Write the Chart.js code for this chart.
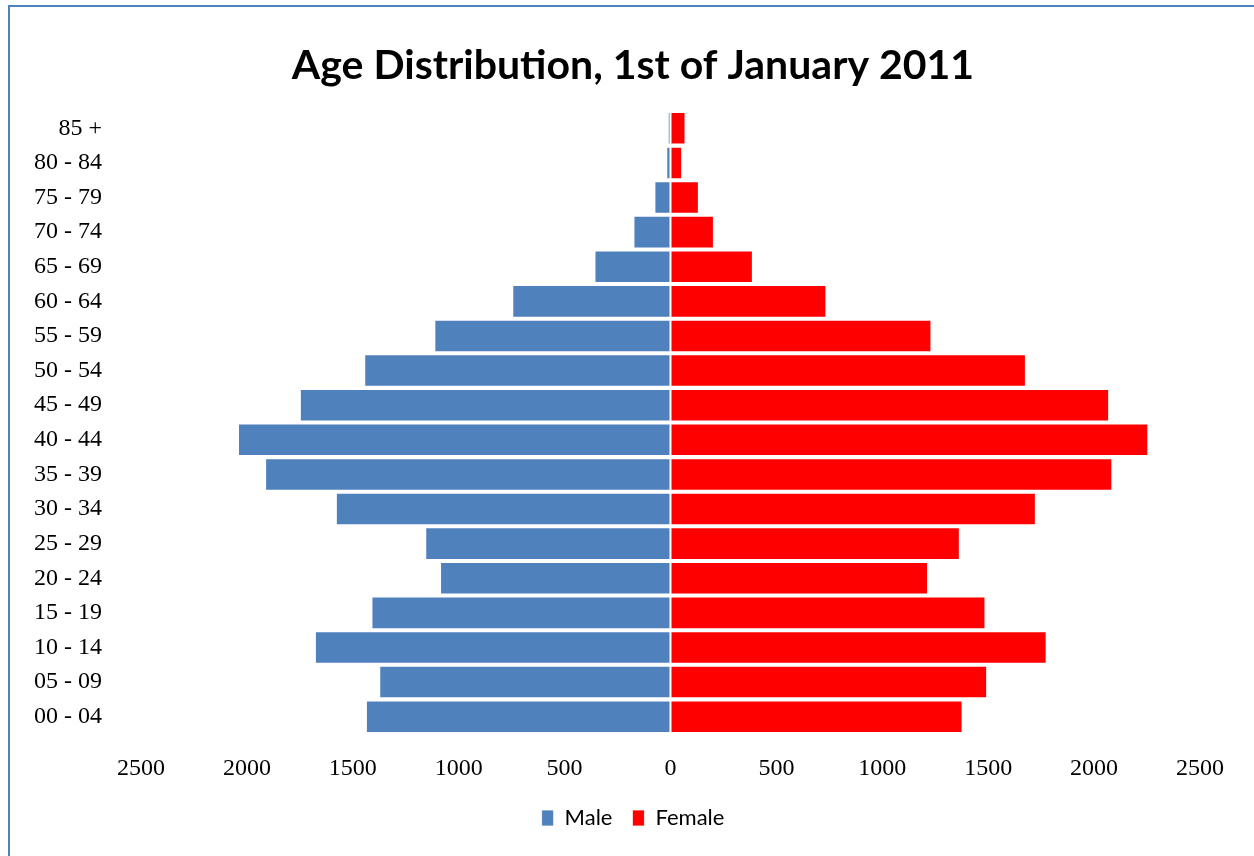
<!DOCTYPE html>
<html>
<head>
<meta charset="utf-8">
<script src="https://cdn.jsdelivr.net/npm/chart.js@4/dist/chart.umd.min.js"></script>
<style>
  html, body { margin: 0; padding: 0; background: #ffffff; overflow: hidden; }
  #wrap { position: relative; width: 1254px; height: 856px; }
  #frame { position: absolute; left: 8px; top: 5px; width: 1400px; height: 1000px;
           border-left: 2px solid #4f81bd; border-top: 2px solid #4f81bd; box-sizing: border-box; }
  #c { position: absolute; left: 0; top: 0; }
</style>
</head>
<body>
<div id="wrap">
  <div id="frame"></div>
  <canvas id="c" width="1254" height="856"></canvas>
</div>
<script>
// Age groups, top to bottom as shown
const categories = ["85 +", "80 - 84", "75 - 79", "70 - 74", "65 - 69", "60 - 64",
  "55 - 59", "50 - 54", "45 - 49", "40 - 44", "35 - 39", "30 - 34",
  "25 - 29", "20 - 24", "15 - 19", "10 - 14", "05 - 09", "00 - 04"];

const maleValues = [13, 20, 76, 175, 359, 747, 1115, 1446, 1750, 2042, 1914, 1580,
  1158, 1088, 1412, 1679, 1375, 1438];

const femaleValues = [71, 55, 134, 205, 389, 736, 1232, 1678, 2071, 2256, 2086, 1725,
  1366, 1216, 1487, 1776, 1495, 1379];

const xTickValues = [-2500, -2000, -1500, -1000, -500, 0, 500, 1000, 1500, 2000, 2500];

const seriesNames = ["Male", "Female"];
const titleText = "Age Distribution, 1st of January 2011";

new Chart(document.getElementById("c"), {
  type: "bar",
  data: {
    labels: categories,
    datasets: [
      {
        label: seriesNames[0],
        data: maleValues.map(v => -v),
        backgroundColor: "#4f81bd",
        borderColor: "rgba(255,255,255,0.75)",
        borderWidth: 1,
        borderSkipped: false,
        barPercentage: 0.94,
        categoryPercentage: 1.0
      },
      {
        label: seriesNames[1],
        data: femaleValues,
        backgroundColor: "#ff0000",
        borderColor: "rgba(255,255,255,0.75)",
        borderWidth: 1,
        borderSkipped: false,
        barPercentage: 0.94,
        categoryPercentage: 1.0
      }
    ]
  },
  options: {
    indexAxis: "y",
    responsive: false,
    animation: false,
    layout: { padding: { left: 33, right: 21, top: 0, bottom: 17 } },
    scales: {
      x: {
        stacked: true,
        min: xTickValues[0],
        max: xTickValues[xTickValues.length - 1],
        afterBuildTicks: (scale) => { scale.ticks = xTickValues.map(v => ({ value: v })); },
        afterFit: (scale) => { scale.height = 53; },
        grid: { display: false, drawTicks: false },
        border: { display: false },
        ticks: {
          padding: 20,
          color: "#000000",
          font: { family: "'Liberation Serif', serif", size: 24 },
          callback: (v) => String(Math.abs(v)),
          maxRotation: 0,
          autoSkip: false
        }
      },
      y: {
        stacked: true,
        afterFit: (scale) => { scale.width = 108; },
        grid: { display: false, drawTicks: false },
        border: { display: false },
        ticks: {
          padding: 39,
          color: "#000000",
          crossAlign: "near",
          font: { family: "'Liberation Serif', serif", size: 24 },
          autoSkip: false
        }
      },
      yRight: {
        type: "category",
        labels: categories,
        position: "right",
        display: true,
        afterFit: (scale) => { scale.width = 33; },
        grid: { display: false, drawTicks: false },
        border: { display: false },
        ticks: { display: false }
      }
    },
    plugins: {
      title: {
        display: true,
        text: titleText,
        color: "#000000",
        font: { family: "Lato, sans-serif", size: 41, weight: "bold", lineHeight: 1.2 },
        padding: { top: 41.4, bottom: 20.4 }
      },
      legend: {
        display: true,
        position: "bottom",
        labels: {
          color: "#000000",
          font: { family: "Lato, sans-serif", size: 22 },
          boxWidth: 12,
          boxHeight: 16,
          padding: 20
        }
      },
      tooltip: { enabled: false }
    }
  }
});
</script>
</body>
</html>
